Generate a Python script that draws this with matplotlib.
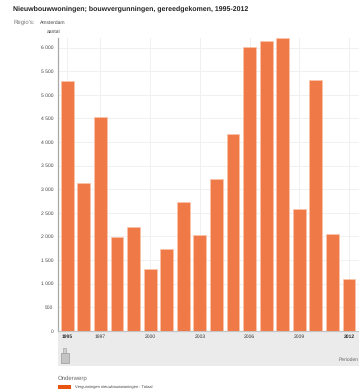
import matplotlib
matplotlib.use("Agg")
import matplotlib.pyplot as plt
from matplotlib.patches import Rectangle

plt.rcParams["font.family"] = ["Liberation Sans", "DejaVu Sans"]
plt.rcParams["text.hinting"] = "no_hinting"
plt.rcParams["text.hinting_factor"] = 1

years = list(range(1995, 2013))
vergunningen = [5290, 3122, 4528, 1993, 2204, 1300, 1724, 2733, 2030, 3210, 4170,
                6017, 6131, 6201, 2570, 5311, 2040, 1101]
y_ticks = [0, 500, 1000, 1500, 2000, 2500, 3000, 3500, 4000, 4500, 5000, 5500, 6000]
x_labels = [1995, 1997, 2000, 2003, 2006, 2009, 2012]

W, H = 359, 390
LEFT, RIGHT, TOP, BOTTOM = 57.5, 359, 38, 330.7

fig = plt.figure(figsize=(W / 100, H / 100), dpi=100)
ax = fig.add_axes([LEFT / W, 1 - BOTTOM / H, (RIGHT - LEFT) / W, (BOTTOM - TOP) / H])

# grijze band onder de as
fig.add_artist(Rectangle((58 / W, 1 - 366 / H), 301 / W, 35 / H, transform=fig.transFigure,
                         color="#ebebeb", lw=0, zorder=0))

ax.bar(years, vergunningen, width=0.78, color="#ef7a47", edgecolor="#f9c4ab", linewidth=0.5, zorder=3)

ax.set_xlim(1995 - 0.593, 1995 - 0.593 + (RIGHT - LEFT) / 16.57)
ax.set_ylim(0, (BOTTOM - TOP) / 47.2 * 1000)
ax.set_yticks(y_ticks)
ax.set_yticklabels([f"{v:,}".replace(",", " ") for v in y_ticks], fontsize=3.5, color="#444444")
ax.set_xticks(x_labels)
ax.set_xticklabels(x_labels, fontsize=3.6, color="#333333")
for lab in ax.get_xticklabels():
    if lab.get_text() in ("1995", "2012"):
        lab.set_fontweight("bold")
ax.tick_params(length=0, pad=3)
ax.tick_params(axis="x", pad=2.5)
ax.grid(True, color="#f0f0f0", linewidth=0.7, zorder=0)
ax.set_axisbelow(True)
for side in ("top", "right"):
    ax.spines[side].set_visible(False)
ax.spines["left"].set_color("#a8a8a8")
ax.spines["left"].set_linewidth(0.9)
ax.spines["bottom"].set_color("#c4c4c4")
ax.spines["bottom"].set_linewidth(0.9)
ax.patch.set_alpha(0)


def label(x, y, s, **kw):
    fig.text(x / W, 1 - y / H, s, va="center", **kw)


label(13, 9, "Nieuwbouwwoningen; bouwvergunningen, gereedgekomen, 1995-2012",
      fontsize=5.3, fontweight="bold", color="#222222")
label(13, 22.5, "Regio's:", fontsize=4.4, color="#777777")
label(40, 23, "Amsterdam", fontsize=3.4, color="#444444")
label(47, 32, "aantal", fontsize=3.5, color="#444444")
label(358.5, 360, "Perioden", fontsize=3.3, color="#666666", ha="right")
label(58, 378, "Onderwerp", fontsize=4.1, color="#666666")
label(75, 387, "Vergunningen nieuwbouwwoningen : Totaal", fontsize=3.1, color="#444444")

fig.add_artist(Rectangle((58 / W, 1 - 389 / H), 13 / W, 4.5 / H, transform=fig.transFigure,
                         color="#e8540f", lw=0))
# klein printicoontje in de grijze band
fig.add_artist(Rectangle((60.5 / W, 1 - 362.5 / H), 8 / W, 10 / H, transform=fig.transFigure,
                         facecolor="#c4c4c4", edgecolor="#9a9a9a", lw=0.5))
fig.add_artist(Rectangle((63 / W, 1 - 352.5 / H), 3 / W, 4.5 / H, transform=fig.transFigure,
                         facecolor="#cfcfcf", edgecolor="#9a9a9a", lw=0.4))

fig.savefig("out.png", dpi=100)
